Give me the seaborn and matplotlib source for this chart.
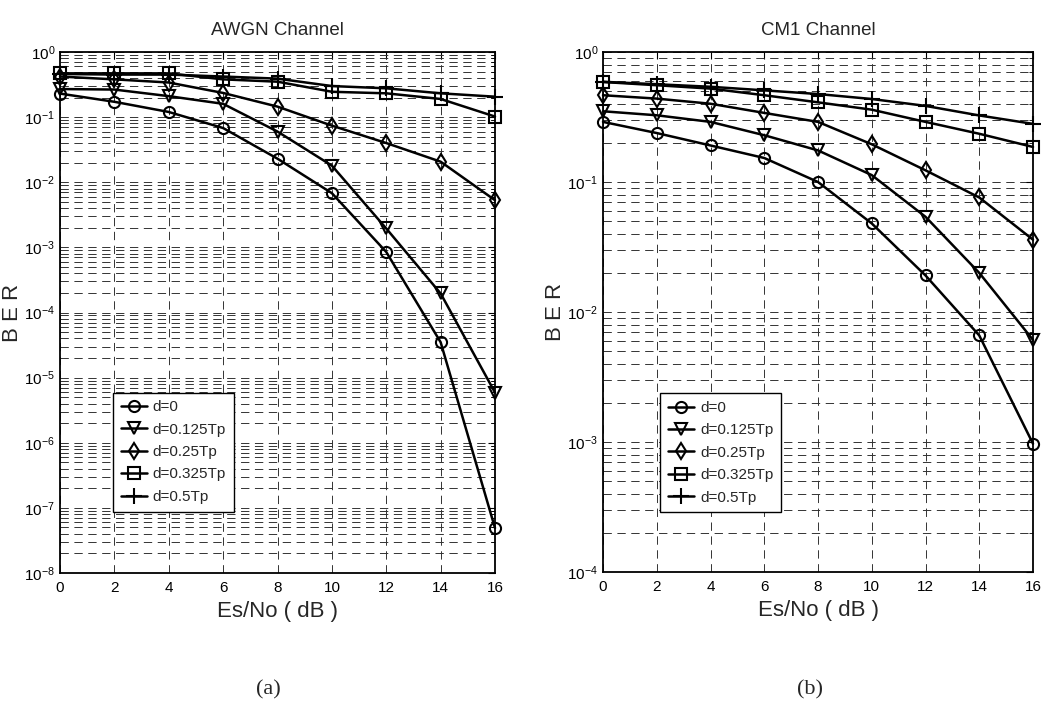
import numpy as np
import pandas as pd
import matplotlib
matplotlib.use("Agg")
import matplotlib.pyplot as plt
import seaborn as sns
from matplotlib.ticker import LogLocator, NullFormatter, FixedLocator

# ---------------- data ----------------
snr_db = [0, 2, 4, 6, 8, 10, 12, 14, 16]
series_labels = ["d=0", "d=0.125Tp", "d=0.25Tp", "d=0.325Tp", "d=0.5Tp"]
series_markers = ["o", "v", "d", "s", "+"]

awgn_d0 = [0.23, 0.172, 0.12, 0.068, 0.023, 0.0068, 8.5e-4, 3.5e-5, 4.9e-8]
awgn_d0125 = [0.27, 0.265, 0.21, 0.16, 0.06, 0.018, 1.95e-3, 1.96e-4, 5.9e-6]
awgn_d025 = [0.42, 0.38, 0.34, 0.235, 0.145, 0.074, 0.04, 0.0207, 0.0053]
awgn_d0325 = [0.47, 0.47, 0.47, 0.38, 0.35, 0.245, 0.232, 0.19, 0.102]
awgn_d05 = [0.46, 0.45, 0.45, 0.42, 0.39, 0.30, 0.277, 0.232, 0.206]

cm1_d0 = [0.29, 0.238, 0.191, 0.153, 0.1, 0.048, 0.0191, 0.0066, 0.00097]
cm1_d0125 = [0.35, 0.326, 0.29, 0.229, 0.175, 0.113, 0.054, 0.02, 0.0061]
cm1_d025 = [0.465, 0.438, 0.40, 0.34, 0.29, 0.195, 0.123, 0.076, 0.036]
cm1_d0325 = [0.588, 0.555, 0.523, 0.465, 0.41, 0.36, 0.29, 0.235, 0.186]
cm1_d05 = [0.59, 0.565, 0.54, 0.507, 0.475, 0.435, 0.385, 0.325, 0.28]

awgn_series = [awgn_d0, awgn_d0125, awgn_d025, awgn_d0325, awgn_d05]
cm1_series = [cm1_d0, cm1_d0125, cm1_d025, cm1_d0325, cm1_d05]

titles = ["AWGN Channel", "CM1 Channel"]
panel_tags = ["(a)", "(b)"]
ylims = [(1e-8, 1.0), (1e-4, 1.0)]
x_ticks = [0, 2, 4, 6, 8, 10, 12, 14, 16]

# ---------------- style ----------------
sns.set_theme(style="white")
plt.rcParams["font.family"] = ["Liberation Sans", "DejaVu Sans"]
plt.rcParams["mathtext.fontset"] = "custom"
plt.rcParams["mathtext.rm"] = "Liberation Sans"
plt.rcParams["mathtext.it"] = "Liberation Sans"
plt.rcParams["mathtext.bf"] = "Liberation Sans"
plt.rcParams["lines.scale_dashes"] = False

fig = plt.figure(figsize=(10.5, 7.13), dpi=100)
ax_rects = [
    [60 / 1050, 1 - 573 / 713, 435 / 1050, 521 / 713],
    [603 / 1050, 1 - 572 / 713, 430 / 1050, 520 / 713],
]
legend_anchor = [(0.122, 0.118), (0.133, 0.115)]
tag_x = [268 / 1050, 810 / 1050]

for i, series_list in enumerate([awgn_series, cm1_series]):
    ax = fig.add_axes(ax_rects[i])
    handles = []
    for lab, mk, vals in zip(series_labels, series_markers, series_list):
        df = pd.DataFrame({"snr": snr_db, "ber": vals})
        sns.lineplot(
            data=df, x="snr", y="ber", ax=ax, color="black",
            marker=mk, linewidth=1.8,
            markersize=(11 if mk == "+" else 8),
            markerfacecolor="none", markeredgecolor="black",
            markeredgewidth=1.5, legend=False, clip_on=False, zorder=3,
        )
        handles.append(ax.get_lines()[-1])
    ax.set_yscale("log")
    ax.set_xlim(0, 16)
    ax.set_ylim(*ylims[i])
    ax.xaxis.set_major_locator(FixedLocator(x_ticks))
    ax.yaxis.set_major_locator(LogLocator(base=10, numticks=20))
    ax.yaxis.set_minor_locator(LogLocator(base=10, subs=np.arange(2, 10), numticks=20))
    ax.yaxis.set_minor_formatter(NullFormatter())

    grid_kw = dict(color="0.2", linestyle=(0, (6, 4)), linewidth=0.7)
    ax.grid(True, which="major", axis="both", **grid_kw)
    ax.grid(True, which="minor", axis="y", **grid_kw)

    for sp in ax.spines.values():
        sp.set_color("black")
        sp.set_linewidth(1.3)
    ax.tick_params(which="both", direction="in", top=True, right=True,
                   colors="black", labelsize=11)
    ax.tick_params(which="major", length=5, width=0.8)
    ax.tick_params(which="minor", length=3, width=0.6)
    ax.tick_params(axis="x", pad=6)

    ax.set_title(titles[i], fontsize=13.5, pad=12)
    ax.set_xlabel("Es/No ( dB )", fontsize=16, labelpad=4)
    ax.set_ylabel("B E R", fontsize=16, labelpad=1)

    leg = ax.legend(handles, series_labels, loc="lower left",
                    bbox_to_anchor=legend_anchor[i], fontsize=11,
                    frameon=True, fancybox=False, framealpha=1,
                    edgecolor="black", borderpad=0.5, handlelength=1.7,
                    handletextpad=0.4, labelspacing=0.55, borderaxespad=0)
    leg.get_frame().set_linewidth(1.0)
    leg.set_zorder(5)

    fig.text(tag_x[i], 1 - 690 / 713, panel_tags[i], ha="center", va="center",
             fontsize=16, family=["Liberation Serif", "DejaVu Serif"])

fig.savefig("out.png", dpi=100)
